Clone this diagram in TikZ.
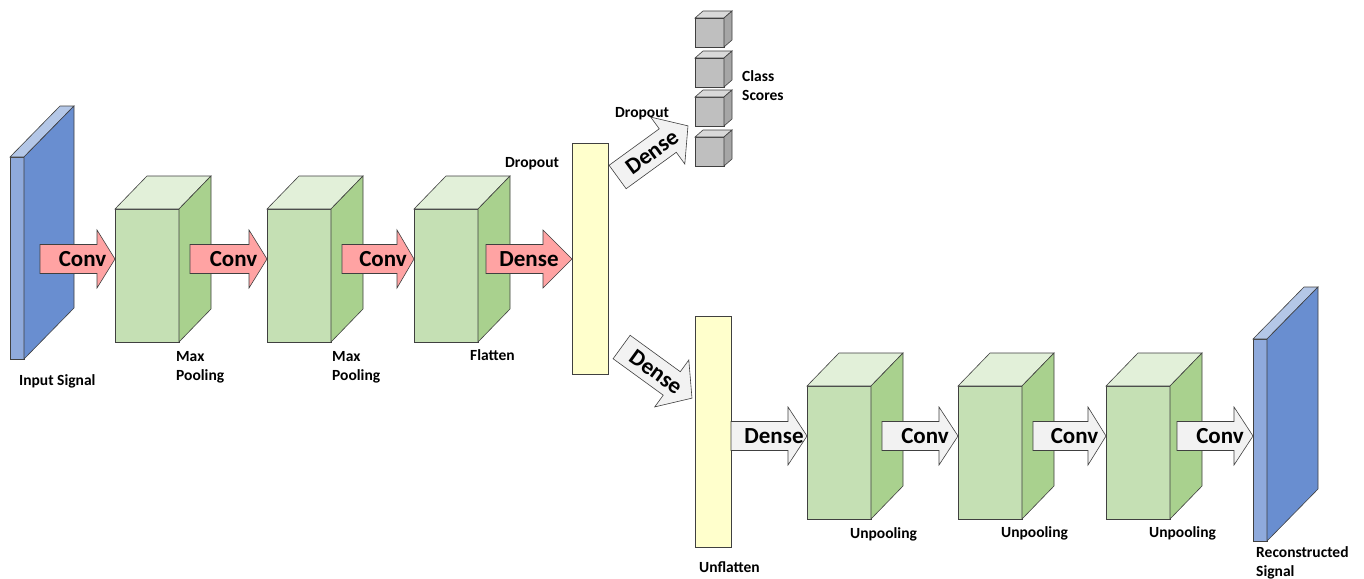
\documentclass[tikz,border=0pt]{standalone}
\usepackage{fontspec}
\setmainfont{Carlito}
\definecolor{gfront}{HTML}{C5E0B4}
\definecolor{gtop}{HTML}{E2F0D9}
\definecolor{gside}{HTML}{A9D18E}
\definecolor{bfront}{HTML}{8FAADC}
\definecolor{btop}{HTML}{B4C7E7}
\definecolor{bside}{HTML}{698ED0}
\definecolor{kfront}{HTML}{BFBFBF}
\definecolor{ktop}{HTML}{D9D9D9}
\definecolor{kside}{HTML}{A6A6A6}
\definecolor{pinkarrow}{HTML}{FFA3A3}
\definecolor{greyarrow}{HTML}{F2F2F2}
\definecolor{ybarfill}{HTML}{FFFFCC}
\definecolor{edgecol}{HTML}{404040}
\newcommand{\drawbox}[8]{%
  \node[facebox, fill=#8front, minimum width=#4pt, minimum height=#5pt, anchor=north west] (#1) at (#2,#3) {};
  \draw[edge, fill=#8top] (#1.north west) -- ++(#6,#7) -- ++(#4,0) -- (#1.north east) -- cycle;
  \draw[edge, fill=#8side] (#1.north east) -- ++(#6,#7) -- ++(0,#5) -- (#1.south east) -- cycle;}
\newcommand{\blockarrow}[8]{%
  \begin{scope}[shift={#2}, rotate=#3]
    \draw[edge, fill=#6] (0,14.5) -- ({#4-#5},14.5) -- ({#4-#5},29) -- (#4,0) -- ({#4-#5},-29) -- ({#4-#5},-14.5) -- (0,-14.5) -- cycle;
    \node[arrowtext, rotate=#3] (#1) at ({#4/2+#8},0) {#7};
  \end{scope}}
\begin{document}
\begin{tikzpicture}[x=1pt,y=-1pt,
  edge/.style={draw=edgecol, line width=0.6pt, line join=miter},
  facebox/.style={draw=edgecol, line width=0.6pt, rectangle, inner sep=0pt, outer sep=0pt},
  ybar/.style={facebox, fill=ybarfill},
  arrowtext/.style={inner sep=0pt, font=\fontsize{23}{26}\selectfont\bfseries},
  lbl/.style={inner sep=0pt, anchor=north west, align=left, font=\fontsize{15.5}{19}\selectfont\bfseries}]
\useasboundingbox (0,0) rectangle (1364,578);
\fill[white] (0,0) rectangle (1364,578);

% input and output signals
\drawbox{inp}{10}{157}{14}{202}{50}{-51}{b}
\drawbox{out}{1253}{339}{14}{202}{51}{-52}{b}

% encoder blocks
\drawbox{c1}{115}{209}{64}{133}{32}{-33}{g}
\drawbox{c2}{267}{209}{64}{133}{32}{-33}{g}
\drawbox{c3}{414}{209}{64}{133}{32}{-33}{g}
% decoder blocks
\drawbox{c4}{807}{386}{64}{133}{32}{-33}{g}
\drawbox{c5}{958}{386}{64}{133}{32}{-33}{g}
\drawbox{c6}{1106}{386}{64}{133}{32}{-33}{g}

% class score cubes
\drawbox{k1}{695}{18}{29}{29}{8}{-7}{k}
\drawbox{k2}{695}{58}{29}{29}{8}{-7}{k}
\drawbox{k3}{695}{97}{29}{29}{8}{-7}{k}
\drawbox{k4}{695}{137}{29}{29}{8}{-7}{k}

% dense bars
\node[ybar, anchor=north west, minimum width=36pt, minimum height=231pt] (y1) at (572,143) {};
\node[ybar, anchor=north west, minimum width=36pt, minimum height=231pt] (y2) at (695,316) {};

% arrows, top row
\blockarrow{a1}{(40,259)}{0}{75}{18}{pinkarrow}{Conv}{5}
\blockarrow{a2}{(190,259)}{0}{77}{18}{pinkarrow}{Conv}{5}
\blockarrow{a3}{(342,259)}{0}{72}{17}{pinkarrow}{Conv}{5}
\blockarrow{a4}{(486,259)}{0}{86}{29}{pinkarrow}{Dense}{0}
% diagonal arrows
\blockarrow{d1}{(617.6,177)}{36}{87}{25}{greyarrow}{Dense}{-1}
\blockarrow{d2}{(621.6,347)}{-36}{87}{25}{greyarrow}{Dense}{-1}
% arrows, bottom row
\blockarrow{b1}{(731,436)}{0}{76}{19}{greyarrow}{Dense}{5}
\blockarrow{b2}{(882,436)}{0}{76}{19}{greyarrow}{Conv}{5}
\blockarrow{b3}{(1033,436)}{0}{73}{18}{greyarrow}{Conv}{5}
\blockarrow{b4}{(1177,436)}{0}{76}{19}{greyarrow}{Conv}{5}

% labels
\node[lbl] (l1) at (19,374.5) {Input Signal};
\node[lbl] (l2) at (176,351.5) {Max\\Pooling};
\node[lbl] (l3) at (332,351.5) {Max\\Pooling};
\node[lbl] (l4) at (470,349.5) {Flatten};
\node[lbl] (l5) at (505,157.5) {Dropout};
\node[lbl] (l6) at (615,107.5) {Dropout};
\node[lbl] (l7) at (742,70.5) {Class\\Scores};
\node[lbl] (l8) at (699,561.5) {Unflatten};
\node[lbl] (l9) at (850,527.5) {Unpooling};
\node[lbl] (l10) at (1001,526.5) {Unpooling};
\node[lbl] (l11) at (1149,526.5) {Unpooling};
\node[lbl] (l12) at (1256,546.5) {Reconstructed\\Signal};
\end{tikzpicture}
\end{document}
